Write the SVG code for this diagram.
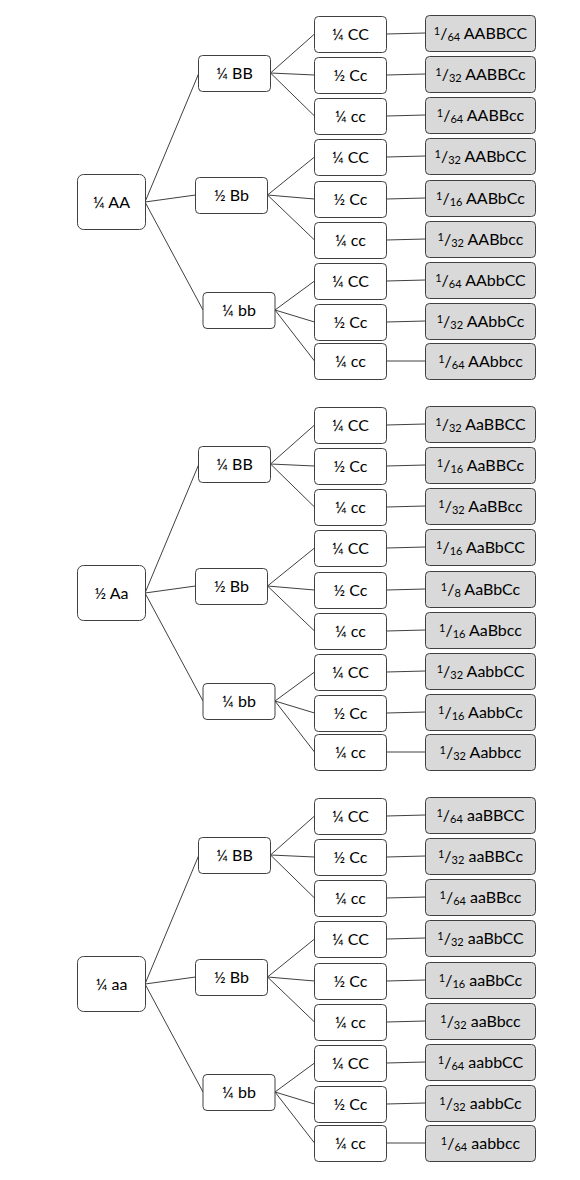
<svg xmlns="http://www.w3.org/2000/svg" width="580" height="1180" viewBox="0 0 580 1180">
<style>
.bx{fill:#fff;stroke:#404040;stroke-width:1}
.rs{fill:#d9d9d9;stroke:#404040;stroke-width:1}
.t{font-family:Lato,"Liberation Sans",sans-serif;font-size:16px;fill:#000;text-anchor:middle}
.sm{font-size:11px}
.ln{stroke:#404040;stroke-width:1;fill:none}
</style>
<rect width="580" height="1180" fill="#fff"/>
<g id="connectors">
<g transform="translate(0,0)">
<path class="ln" d="M145 202L198.5 74M145 202L195.5 195M145 202L203 310M270.5 73L314.5 34M270.5 73L314.5 75M270.5 73L314.5 116M267.5 195L314.5 157M267.5 195L314.5 199M267.5 195L314.5 240M275 310L314.5 281M275 310L314.5 322M275 310L314.5 361M386.5 34L425 33M386.5 75L425 74M386.5 116L425 115M386.5 157L425 156M386.5 199L425 198M386.5 240L425 239M386.5 281L425 280M386.5 322L425 321M386.5 361L425 361"/>
</g>
<g transform="translate(0,391)">
<path class="ln" d="M145 202L198.5 74M145 202L195.5 195M145 202L203 310M270.5 73L314.5 34M270.5 73L314.5 75M270.5 73L314.5 116M267.5 195L314.5 157M267.5 195L314.5 199M267.5 195L314.5 240M275 310L314.5 281M275 310L314.5 322M275 310L314.5 361M386.5 34L425 33M386.5 75L425 74M386.5 116L425 115M386.5 157L425 156M386.5 199L425 198M386.5 240L425 239M386.5 281L425 280M386.5 322L425 321M386.5 361L425 361"/>
</g>
<g transform="translate(0,782)">
<path class="ln" d="M145 202L198.5 74M145 202L195.5 195M145 202L203 310M270.5 73L314.5 34M270.5 73L314.5 75M270.5 73L314.5 116M267.5 195L314.5 157M267.5 195L314.5 199M267.5 195L314.5 240M275 310L314.5 281M275 310L314.5 322M275 310L314.5 361M386.5 34L425 33M386.5 75L425 74M386.5 116L425 115M386.5 157L425 156M386.5 199L425 198M386.5 240L425 239M386.5 281L425 280M386.5 322L425 321M386.5 361L425 361"/>
</g>
</g>

<!-- Section AA -->
<g transform="translate(0,0)">
<g id="AA"><rect class="bx" x="77.5" y="174.5" width="68" height="55" rx="6"/><text class="t" x="111.5" y="208">¼ AA</text></g>
<g id="AA-BB"><rect class="bx" x="198.5" y="55.5" width="72" height="36" rx="4"/><text class="t" x="234.5" y="79">¼ BB</text></g>
<g id="AA-Bb"><rect class="bx" x="195.5" y="177.5" width="72" height="36" rx="4"/><text class="t" x="231.5" y="201">½ Bb</text></g>
<g id="AA-bb"><rect class="bx" x="203" y="292.5" width="72" height="36" rx="4"/><text class="t" x="239" y="316">¼ bb</text></g>
<g id="AA-BB-CC"><rect class="bx" x="314.5" y="16.5" width="72" height="36" rx="4"/><text class="t" x="350.5" y="40">¼ CC</text></g>
<g id="AA-BB-Cc"><rect class="bx" x="314.5" y="57.5" width="72" height="36" rx="4"/><text class="t" x="350.5" y="81">½ Cc</text></g>
<g id="AA-BB-cc"><rect class="bx" x="314.5" y="98.5" width="72" height="36" rx="4"/><text class="t" x="350.5" y="122">¼ cc</text></g>
<g id="AA-Bb-CC"><rect class="bx" x="314.5" y="139.5" width="72" height="36" rx="4"/><text class="t" x="350.5" y="163">¼ CC</text></g>
<g id="AA-Bb-Cc"><rect class="bx" x="314.5" y="181.5" width="72" height="36" rx="4"/><text class="t" x="350.5" y="205">½ Cc</text></g>
<g id="AA-Bb-cc"><rect class="bx" x="314.5" y="222.5" width="72" height="36" rx="4"/><text class="t" x="350.5" y="246">¼ cc</text></g>
<g id="AA-bb-CC"><rect class="bx" x="314.5" y="263.5" width="72" height="36" rx="4"/><text class="t" x="350.5" y="287">¼ CC</text></g>
<g id="AA-bb-Cc"><rect class="bx" x="314.5" y="304.5" width="72" height="36" rx="4"/><text class="t" x="350.5" y="328">½ Cc</text></g>
<g id="AA-bb-cc"><rect class="bx" x="314.5" y="343.5" width="72" height="36" rx="4"/><text class="t" x="350.5" y="367">¼ cc</text></g>
<g id="r-AABBCC"><rect class="rs" x="425.5" y="15.5" width="110" height="36" rx="4"/><text class="t" x="480.5" y="39"><tspan class="sm" dy="-4.5">1</tspan><tspan dy="4.5">/</tspan><tspan class="sm" dy="2">64</tspan><tspan dy="-2"> AABBCC</tspan></text></g>
<g id="r-AABBCc"><rect class="rs" x="425.5" y="56.5" width="110" height="36" rx="4"/><text class="t" x="480.5" y="80"><tspan class="sm" dy="-4.5">1</tspan><tspan dy="4.5">/</tspan><tspan class="sm" dy="2">32</tspan><tspan dy="-2"> AABBCc</tspan></text></g>
<g id="r-AABBcc"><rect class="rs" x="425.5" y="97.5" width="110" height="36" rx="4"/><text class="t" x="480.5" y="121"><tspan class="sm" dy="-4.5">1</tspan><tspan dy="4.5">/</tspan><tspan class="sm" dy="2">64</tspan><tspan dy="-2"> AABBcc</tspan></text></g>
<g id="r-AABbCC"><rect class="rs" x="425.5" y="138.5" width="110" height="36" rx="4"/><text class="t" x="480.5" y="162"><tspan class="sm" dy="-4.5">1</tspan><tspan dy="4.5">/</tspan><tspan class="sm" dy="2">32</tspan><tspan dy="-2"> AABbCC</tspan></text></g>
<g id="r-AABbCc"><rect class="rs" x="425.5" y="180.5" width="110" height="36" rx="4"/><text class="t" x="480.5" y="204"><tspan class="sm" dy="-4.5">1</tspan><tspan dy="4.5">/</tspan><tspan class="sm" dy="2">16</tspan><tspan dy="-2"> AABbCc</tspan></text></g>
<g id="r-AABbcc"><rect class="rs" x="425.5" y="221.5" width="110" height="36" rx="4"/><text class="t" x="480.5" y="245"><tspan class="sm" dy="-4.5">1</tspan><tspan dy="4.5">/</tspan><tspan class="sm" dy="2">32</tspan><tspan dy="-2"> AABbcc</tspan></text></g>
<g id="r-AAbbCC"><rect class="rs" x="425.5" y="262.5" width="110" height="36" rx="4"/><text class="t" x="480.5" y="286"><tspan class="sm" dy="-4.5">1</tspan><tspan dy="4.5">/</tspan><tspan class="sm" dy="2">64</tspan><tspan dy="-2"> AAbbCC</tspan></text></g>
<g id="r-AAbbCc"><rect class="rs" x="425.5" y="303.5" width="110" height="36" rx="4"/><text class="t" x="480.5" y="327"><tspan class="sm" dy="-4.5">1</tspan><tspan dy="4.5">/</tspan><tspan class="sm" dy="2">32</tspan><tspan dy="-2"> AAbbCc</tspan></text></g>
<g id="r-AAbbcc"><rect class="rs" x="425.5" y="343.5" width="110" height="36" rx="4"/><text class="t" x="480.5" y="367"><tspan class="sm" dy="-4.5">1</tspan><tspan dy="4.5">/</tspan><tspan class="sm" dy="2">64</tspan><tspan dy="-2"> AAbbcc</tspan></text></g>
</g>

<!-- Section Aa -->
<g transform="translate(0,391)">
<g id="Aa"><rect class="bx" x="77.5" y="174.5" width="68" height="55" rx="6"/><text class="t" x="111.5" y="208">½ Aa</text></g>
<g id="Aa-BB"><rect class="bx" x="198.5" y="55.5" width="72" height="36" rx="4"/><text class="t" x="234.5" y="79">¼ BB</text></g>
<g id="Aa-Bb"><rect class="bx" x="195.5" y="177.5" width="72" height="36" rx="4"/><text class="t" x="231.5" y="201">½ Bb</text></g>
<g id="Aa-bb"><rect class="bx" x="203" y="292.5" width="72" height="36" rx="4"/><text class="t" x="239" y="316">¼ bb</text></g>
<g id="Aa-BB-CC"><rect class="bx" x="314.5" y="16.5" width="72" height="36" rx="4"/><text class="t" x="350.5" y="40">¼ CC</text></g>
<g id="Aa-BB-Cc"><rect class="bx" x="314.5" y="57.5" width="72" height="36" rx="4"/><text class="t" x="350.5" y="81">½ Cc</text></g>
<g id="Aa-BB-cc"><rect class="bx" x="314.5" y="98.5" width="72" height="36" rx="4"/><text class="t" x="350.5" y="122">¼ cc</text></g>
<g id="Aa-Bb-CC"><rect class="bx" x="314.5" y="139.5" width="72" height="36" rx="4"/><text class="t" x="350.5" y="163">¼ CC</text></g>
<g id="Aa-Bb-Cc"><rect class="bx" x="314.5" y="181.5" width="72" height="36" rx="4"/><text class="t" x="350.5" y="205">½ Cc</text></g>
<g id="Aa-Bb-cc"><rect class="bx" x="314.5" y="222.5" width="72" height="36" rx="4"/><text class="t" x="350.5" y="246">¼ cc</text></g>
<g id="Aa-bb-CC"><rect class="bx" x="314.5" y="263.5" width="72" height="36" rx="4"/><text class="t" x="350.5" y="287">¼ CC</text></g>
<g id="Aa-bb-Cc"><rect class="bx" x="314.5" y="304.5" width="72" height="36" rx="4"/><text class="t" x="350.5" y="328">½ Cc</text></g>
<g id="Aa-bb-cc"><rect class="bx" x="314.5" y="343.5" width="72" height="36" rx="4"/><text class="t" x="350.5" y="367">¼ cc</text></g>
<g id="r-AaBBCC"><rect class="rs" x="425.5" y="15.5" width="110" height="36" rx="4"/><text class="t" x="480.5" y="39"><tspan class="sm" dy="-4.5">1</tspan><tspan dy="4.5">/</tspan><tspan class="sm" dy="2">32</tspan><tspan dy="-2"> AaBBCC</tspan></text></g>
<g id="r-AaBBCc"><rect class="rs" x="425.5" y="56.5" width="110" height="36" rx="4"/><text class="t" x="480.5" y="80"><tspan class="sm" dy="-4.5">1</tspan><tspan dy="4.5">/</tspan><tspan class="sm" dy="2">16</tspan><tspan dy="-2"> AaBBCc</tspan></text></g>
<g id="r-AaBBcc"><rect class="rs" x="425.5" y="97.5" width="110" height="36" rx="4"/><text class="t" x="480.5" y="121"><tspan class="sm" dy="-4.5">1</tspan><tspan dy="4.5">/</tspan><tspan class="sm" dy="2">32</tspan><tspan dy="-2"> AaBBcc</tspan></text></g>
<g id="r-AaBbCC"><rect class="rs" x="425.5" y="138.5" width="110" height="36" rx="4"/><text class="t" x="480.5" y="162"><tspan class="sm" dy="-4.5">1</tspan><tspan dy="4.5">/</tspan><tspan class="sm" dy="2">16</tspan><tspan dy="-2"> AaBbCC</tspan></text></g>
<g id="r-AaBbCc"><rect class="rs" x="425.5" y="180.5" width="110" height="36" rx="4"/><text class="t" x="480.5" y="204"><tspan class="sm" dy="-4.5">1</tspan><tspan dy="4.5">/</tspan><tspan class="sm" dy="2">8</tspan><tspan dy="-2"> AaBbCc</tspan></text></g>
<g id="r-AaBbcc"><rect class="rs" x="425.5" y="221.5" width="110" height="36" rx="4"/><text class="t" x="480.5" y="245"><tspan class="sm" dy="-4.5">1</tspan><tspan dy="4.5">/</tspan><tspan class="sm" dy="2">16</tspan><tspan dy="-2"> AaBbcc</tspan></text></g>
<g id="r-AabbCC"><rect class="rs" x="425.5" y="262.5" width="110" height="36" rx="4"/><text class="t" x="480.5" y="286"><tspan class="sm" dy="-4.5">1</tspan><tspan dy="4.5">/</tspan><tspan class="sm" dy="2">32</tspan><tspan dy="-2"> AabbCC</tspan></text></g>
<g id="r-AabbCc"><rect class="rs" x="425.5" y="303.5" width="110" height="36" rx="4"/><text class="t" x="480.5" y="327"><tspan class="sm" dy="-4.5">1</tspan><tspan dy="4.5">/</tspan><tspan class="sm" dy="2">16</tspan><tspan dy="-2"> AabbCc</tspan></text></g>
<g id="r-Aabbcc"><rect class="rs" x="425.5" y="343.5" width="110" height="36" rx="4"/><text class="t" x="480.5" y="367"><tspan class="sm" dy="-4.5">1</tspan><tspan dy="4.5">/</tspan><tspan class="sm" dy="2">32</tspan><tspan dy="-2"> Aabbcc</tspan></text></g>
</g>

<!-- Section aa -->
<g transform="translate(0,782)">
<g id="aa"><rect class="bx" x="77.5" y="174.5" width="68" height="55" rx="6"/><text class="t" x="111.5" y="208">¼ aa</text></g>
<g id="aa-BB"><rect class="bx" x="198.5" y="55.5" width="72" height="36" rx="4"/><text class="t" x="234.5" y="79">¼ BB</text></g>
<g id="aa-Bb"><rect class="bx" x="195.5" y="177.5" width="72" height="36" rx="4"/><text class="t" x="231.5" y="201">½ Bb</text></g>
<g id="aa-bb"><rect class="bx" x="203" y="292.5" width="72" height="36" rx="4"/><text class="t" x="239" y="316">¼ bb</text></g>
<g id="aa-BB-CC"><rect class="bx" x="314.5" y="16.5" width="72" height="36" rx="4"/><text class="t" x="350.5" y="40">¼ CC</text></g>
<g id="aa-BB-Cc"><rect class="bx" x="314.5" y="57.5" width="72" height="36" rx="4"/><text class="t" x="350.5" y="81">½ Cc</text></g>
<g id="aa-BB-cc"><rect class="bx" x="314.5" y="98.5" width="72" height="36" rx="4"/><text class="t" x="350.5" y="122">¼ cc</text></g>
<g id="aa-Bb-CC"><rect class="bx" x="314.5" y="139.5" width="72" height="36" rx="4"/><text class="t" x="350.5" y="163">¼ CC</text></g>
<g id="aa-Bb-Cc"><rect class="bx" x="314.5" y="181.5" width="72" height="36" rx="4"/><text class="t" x="350.5" y="205">½ Cc</text></g>
<g id="aa-Bb-cc"><rect class="bx" x="314.5" y="222.5" width="72" height="36" rx="4"/><text class="t" x="350.5" y="246">¼ cc</text></g>
<g id="aa-bb-CC"><rect class="bx" x="314.5" y="263.5" width="72" height="36" rx="4"/><text class="t" x="350.5" y="287">¼ CC</text></g>
<g id="aa-bb-Cc"><rect class="bx" x="314.5" y="304.5" width="72" height="36" rx="4"/><text class="t" x="350.5" y="328">½ Cc</text></g>
<g id="aa-bb-cc"><rect class="bx" x="314.5" y="343.5" width="72" height="36" rx="4"/><text class="t" x="350.5" y="367">¼ cc</text></g>
<g id="r-aaBBCC"><rect class="rs" x="425.5" y="15.5" width="110" height="36" rx="4"/><text class="t" x="480.5" y="39"><tspan class="sm" dy="-4.5">1</tspan><tspan dy="4.5">/</tspan><tspan class="sm" dy="2">64</tspan><tspan dy="-2"> aaBBCC</tspan></text></g>
<g id="r-aaBBCc"><rect class="rs" x="425.5" y="56.5" width="110" height="36" rx="4"/><text class="t" x="480.5" y="80"><tspan class="sm" dy="-4.5">1</tspan><tspan dy="4.5">/</tspan><tspan class="sm" dy="2">32</tspan><tspan dy="-2"> aaBBCc</tspan></text></g>
<g id="r-aaBBcc"><rect class="rs" x="425.5" y="97.5" width="110" height="36" rx="4"/><text class="t" x="480.5" y="121"><tspan class="sm" dy="-4.5">1</tspan><tspan dy="4.5">/</tspan><tspan class="sm" dy="2">64</tspan><tspan dy="-2"> aaBBcc</tspan></text></g>
<g id="r-aaBbCC"><rect class="rs" x="425.5" y="138.5" width="110" height="36" rx="4"/><text class="t" x="480.5" y="162"><tspan class="sm" dy="-4.5">1</tspan><tspan dy="4.5">/</tspan><tspan class="sm" dy="2">32</tspan><tspan dy="-2"> aaBbCC</tspan></text></g>
<g id="r-aaBbCc"><rect class="rs" x="425.5" y="180.5" width="110" height="36" rx="4"/><text class="t" x="480.5" y="204"><tspan class="sm" dy="-4.5">1</tspan><tspan dy="4.5">/</tspan><tspan class="sm" dy="2">16</tspan><tspan dy="-2"> aaBbCc</tspan></text></g>
<g id="r-aaBbcc"><rect class="rs" x="425.5" y="221.5" width="110" height="36" rx="4"/><text class="t" x="480.5" y="245"><tspan class="sm" dy="-4.5">1</tspan><tspan dy="4.5">/</tspan><tspan class="sm" dy="2">32</tspan><tspan dy="-2"> aaBbcc</tspan></text></g>
<g id="r-aabbCC"><rect class="rs" x="425.5" y="262.5" width="110" height="36" rx="4"/><text class="t" x="480.5" y="286"><tspan class="sm" dy="-4.5">1</tspan><tspan dy="4.5">/</tspan><tspan class="sm" dy="2">64</tspan><tspan dy="-2"> aabbCC</tspan></text></g>
<g id="r-aabbCc"><rect class="rs" x="425.5" y="303.5" width="110" height="36" rx="4"/><text class="t" x="480.5" y="327"><tspan class="sm" dy="-4.5">1</tspan><tspan dy="4.5">/</tspan><tspan class="sm" dy="2">32</tspan><tspan dy="-2"> aabbCc</tspan></text></g>
<g id="r-aabbcc"><rect class="rs" x="425.5" y="343.5" width="110" height="36" rx="4"/><text class="t" x="480.5" y="367"><tspan class="sm" dy="-4.5">1</tspan><tspan dy="4.5">/</tspan><tspan class="sm" dy="2">64</tspan><tspan dy="-2"> aabbcc</tspan></text></g>
</g>
</svg>
